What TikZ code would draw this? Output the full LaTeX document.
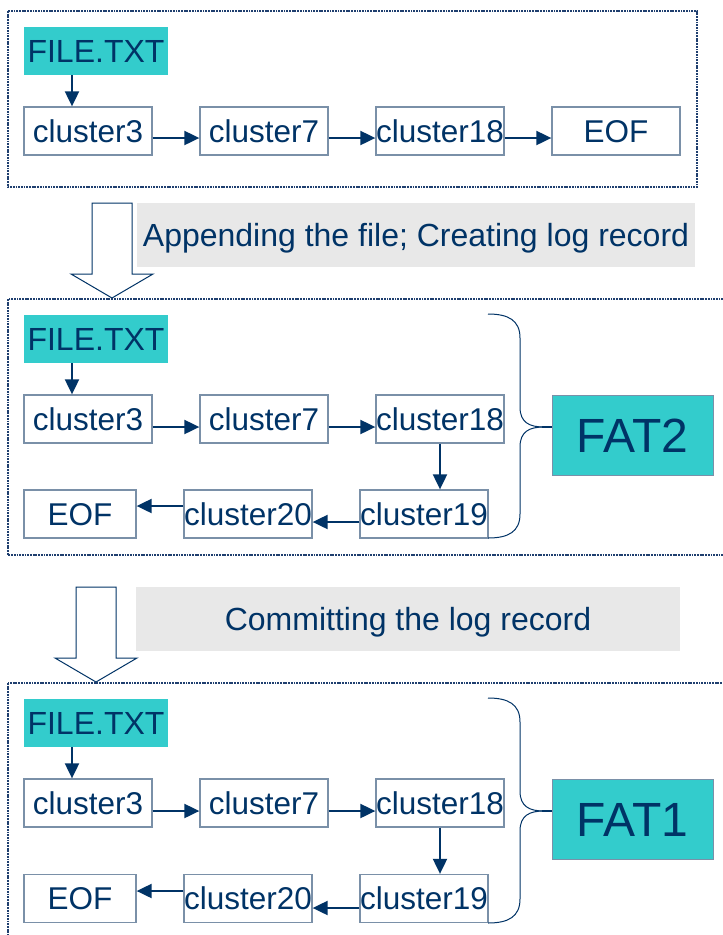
\documentclass[tikz,border=0pt]{standalone}
\usepackage{fontspec}
\setmainfont{Liberation Sans}
\usetikzlibrary{arrows.meta}
\definecolor{navy}{HTML}{003366}
\definecolor{teal1}{HTML}{33CCCC}
\definecolor{bord}{HTML}{7A90A8}
\definecolor{graybg}{HTML}{E8E8E8}
\definecolor{dotc}{HTML}{1F3F6F}
\begin{document}
\begin{tikzpicture}[x=1pt,y=-1pt,
  clbox/.style={draw=bord,line width=1.3pt,fill=white,minimum width=128pt,minimum height=48pt,inner sep=0pt,text=navy,font=\fontsize{31.5}{36}\selectfont,text height=22.5pt,text depth=0pt},
  filebox/.style={fill=teal1,minimum width=144pt,minimum height=48pt,inner sep=0pt,text=navy,font=\fontsize{32}{36}\selectfont,text height=22.5pt,text depth=0pt},
  fatbox/.style={draw=bord,line width=1pt,fill=teal1,minimum width=161pt,minimum height=80pt,inner sep=0pt,text=navy,font=\fontsize{48}{54}\selectfont,text height=34.4pt,text depth=0pt},
  lblbox/.style={fill=graybg,inner sep=0pt,text=navy,font=\fontsize{32}{36}\selectfont,text height=23pt,text depth=0pt},
  conn/.style={draw=navy,line width=2pt,-{Triangle[length=15pt,width=14pt]}},
  framebox/.style={draw=dotc,line width=2.2pt,dash pattern=on 1.8pt off 0.9pt},
  hollow/.style={draw=navy,line width=1pt,fill=white},
  bracel/.style={draw=navy,line width=1pt}
]
\useasboundingbox (0,0) rectangle (723,935);
\clip (0,0) rectangle (723,935);
\fill[white] (0,0) rectangle (723,935);

% ---------- section 1 ----------
\draw[framebox] (8,11) rectangle (697,187);
\node[filebox] (F1) at (96,51) {FILE.TXT};
\node[clbox] (c3a) at (88,131) {cluster3};
\node[clbox] (c7a) at (264,131) {cluster7};
\node[clbox] (c18a) at (440,131) {cluster18};
\node[clbox] (eofa) at (616,131) {EOF};
\draw[conn] ([xshift=-24pt]F1.south) -- ([xshift=-16pt]c3a.north);
\draw[conn] ([yshift=-7pt]c3a.east) -- ([yshift=-7pt]c7a.west);
\draw[conn] ([yshift=-7pt]c7a.east) -- ([yshift=-7pt]c18a.west);
\draw[conn] ([yshift=-7pt]c18a.east) -- ([yshift=-7pt]eofa.west);

% ---------- transition 1 ----------
\draw[hollow] (92,203) -- (132,203) -- (132,274) -- (153,274) -- (112,298) -- (71,274) -- (92,274) -- cycle;
\node[lblbox,minimum width=558pt,minimum height=64pt] (lbl1) at (416,235) {Appending the file; Creating log record};

% ---------- section 2 ----------
\draw[framebox] (8,299) rectangle (740,555);
\node[filebox] (F2) at (96,339) {FILE.TXT};
\node[clbox] (c3b) at (88,419) {cluster3};
\node[clbox] (c7b) at (264,419) {cluster7};
\node[clbox] (c18b) at (440,419) {cluster18};
\node[clbox] (c19b) at (424,514) {cluster19};
\node[clbox] (c20b) at (248,514) {cluster20};
\node[clbox,minimum width=112pt] (eofb) at (80,514) {EOF};
\node[fatbox] (fat2) at (632.5,435) {FAT2};
\draw[conn] ([xshift=-24pt]F2.south) -- ([xshift=-16pt]c3b.north);
\draw[conn] ([yshift=-8pt]c3b.east) -- ([yshift=-8pt]c7b.west);
\draw[conn] ([yshift=-8pt]c7b.east) -- ([yshift=-8pt]c18b.west);
\draw[conn] (c18b.south) -- ([xshift=16pt]c19b.north);
\draw[conn] ([yshift=-8pt]c19b.west) -- ([yshift=-8pt]c20b.east);
\draw[conn] ([yshift=8pt]c20b.west) -- ([yshift=8pt]eofb.east);
\coordinate (b2t) at (488,314);
\coordinate (b2b) at (488,538);
\draw[bracel] (b2t) .. controls (508,314) and (520,320) .. (520,338) -- (520,407) .. controls (520,423) and (530,427) .. (544,427);
\draw[bracel] (544,427) .. controls (530,427) and (520,431) .. (520,447) -- (520,514) .. controls (520,532) and (508,538) .. (b2b);
\draw[navy,line width=2pt] (542,427) -- ([yshift=8pt]fat2.west);

% ---------- transition 2 ----------
\draw[hollow] (76,587) -- (116,587) -- (116,658) -- (137,658) -- (96,682) -- (55,658) -- (76,658) -- cycle;
\node[lblbox,minimum width=544pt,minimum height=64pt] (lbl2) at (408,619) {Committing the log record};

% ---------- section 3 ----------
\draw[framebox] (8,683) rectangle (740,960);
\node[filebox] (F3) at (96,723) {FILE.TXT};
\node[clbox] (c3c) at (88,803) {cluster3};
\node[clbox] (c7c) at (264,803) {cluster7};
\node[clbox] (c18c) at (440,803) {cluster18};
\node[clbox] (c19c) at (424,898.5) {cluster19};
\node[clbox] (c20c) at (248,898.5) {cluster20};
\node[clbox,minimum width=112pt] (eofc) at (80,898.5) {EOF};
\node[fatbox] (fat1) at (632.5,819) {FAT1};
\draw[conn] ([xshift=-24pt]F3.south) -- ([xshift=-16pt]c3c.north);
\draw[conn] ([yshift=-8pt]c3c.east) -- ([yshift=-8pt]c7c.west);
\draw[conn] ([yshift=-8pt]c7c.east) -- ([yshift=-8pt]c18c.west);
\draw[conn] (c18c.south) -- ([xshift=16pt]c19c.north);
\draw[conn] ([yshift=-9.5pt]c19c.west) -- ([yshift=-9.5pt]c20c.east);
\draw[conn] ([yshift=7.5pt]c20c.west) -- ([yshift=7.5pt]eofc.east);
\coordinate (b3t) at (488,698);
\coordinate (b3b) at (488,923);
\draw[bracel] (b3t) .. controls (508,698) and (520,704) .. (520,722) -- (520,791) .. controls (520,807) and (530,811) .. (544,811);
\draw[bracel] (544,811) .. controls (530,811) and (520,815) .. (520,831) -- (520,899) .. controls (520,917) and (508,923) .. (b3b);
\draw[navy,line width=2pt] (542,811) -- ([yshift=8pt]fat1.west);
\end{tikzpicture}
\end{document}
